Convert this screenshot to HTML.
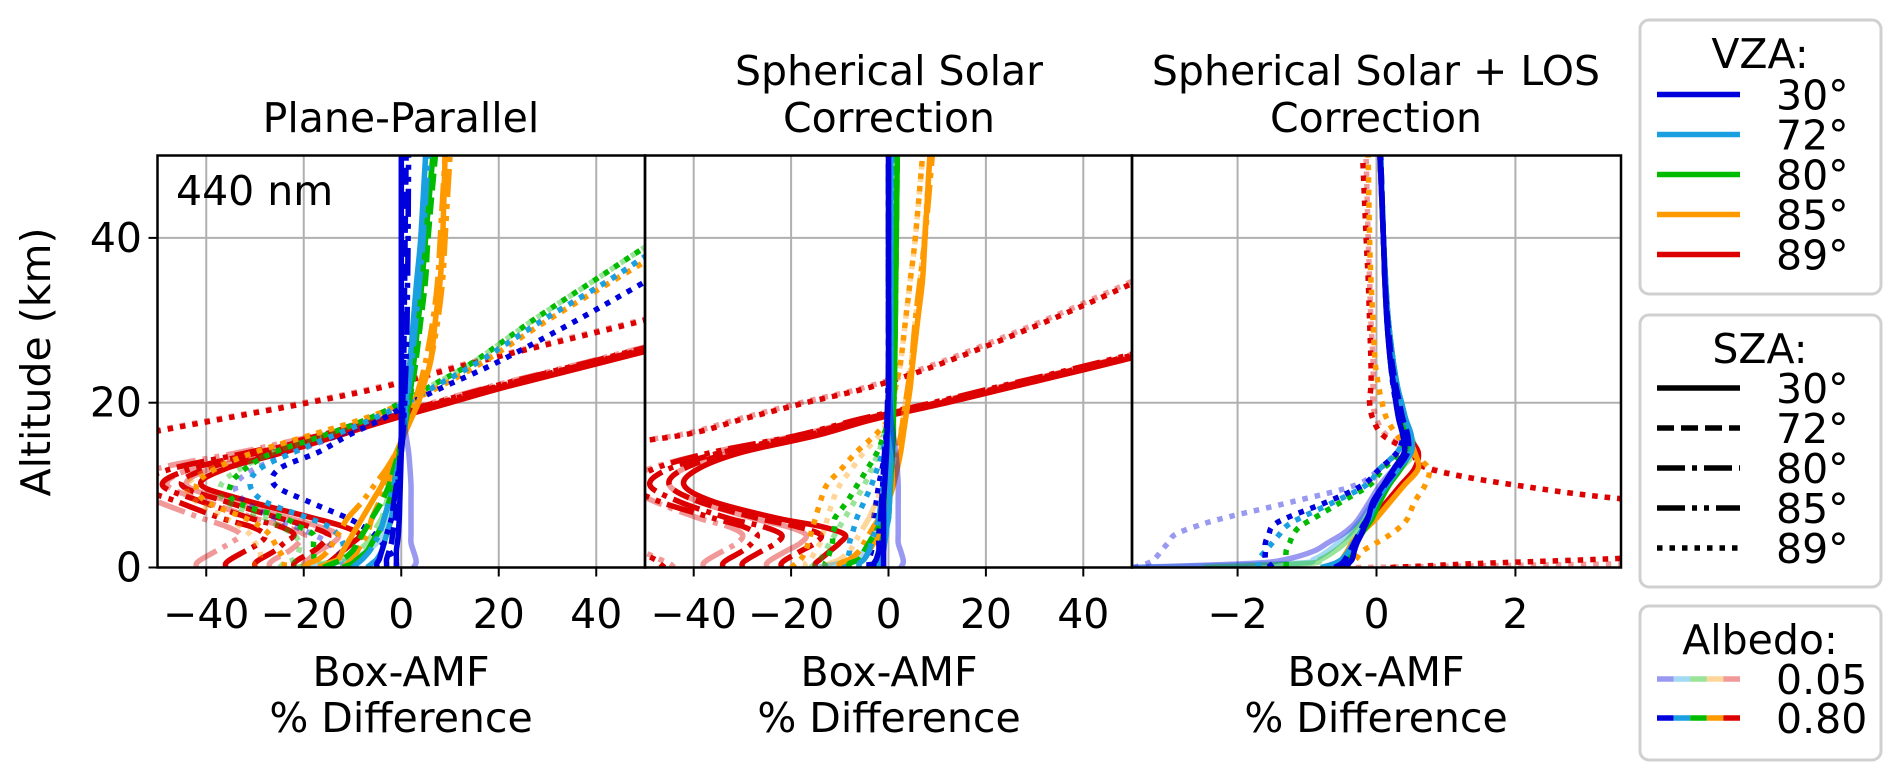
<!DOCTYPE html>
<html><head><meta charset="utf-8">
<style>
html,body{margin:0;padding:0;background:#fff;}
svg{display:block;font-family:"DejaVu Sans","Liberation Sans",sans-serif;}
</style></head>
<body>
<svg id="chart" width="1902" height="781" viewBox="0 0 1902 781" xmlns="http://www.w3.org/2000/svg">
<defs>
<clipPath id="c0"><rect x="157.5" y="155.5" width="487.5" height="412"/></clipPath>
<clipPath id="c1"><rect x="645" y="155.5" width="487" height="412"/></clipPath>
<clipPath id="c2"><rect x="1132" y="155.5" width="489" height="412"/></clipPath>
</defs>
<g id="grids"></g>
<g id="series"></g>
<g id="frames"></g>
<g id="texts" font-size="41" fill="#000">
<text x="401" y="132" text-anchor="middle">Plane-Parallel</text>
<text x="889" y="85" text-anchor="middle">Spherical Solar</text>
<text x="889" y="132" text-anchor="middle">Correction</text>
<text x="1376" y="85" text-anchor="middle">Spherical Solar + LOS</text>
<text x="1376" y="132" text-anchor="middle">Correction</text>
<text x="176" y="205">440 nm</text>
<text transform="translate(50,362) rotate(-90)" text-anchor="middle">Altitude (km)</text>
<text x="401" y="686" text-anchor="middle">Box-AMF</text>
<text x="401" y="732" text-anchor="middle">% Difference</text>
<text x="889" y="686" text-anchor="middle">Box-AMF</text>
<text x="889" y="732" text-anchor="middle">% Difference</text>
<text x="1376" y="686" text-anchor="middle">Box-AMF</text>
<text x="1376" y="732" text-anchor="middle">% Difference</text>
</g>
<g id="legends" font-size="41"></g>
</svg>
<script>
const ALT = [0,0.5,1,2,3,4,5,6,8,10,12,14,16,18,20,22,25,30,35,40,50];
const Y_TICKS = [0,20,40];
const X_TICKS_PCT = [-40,-20,0,20,40];
const X_TICKS_P3 = [-2,0,2];
const VZA_LABELS = ["30°","72°","80°","85°","89°"];
const SZA_LABELS = ["30°","72°","80°","85°","89°"];
const ALBEDO_LABELS = ["0.05","0.80"];

// Panel 1: plane-parallel
const p1_r30=[-15,-15,-14,-12,-10,-8.5,-12,-18,-31,-41,-36,-24,-13,-2,10,22,42,75,108,140,205];
const p1_r72=[-22,-22,-21,-18,-16,-15,-19,-25,-36,-45,-40,-27,-15,-3,9,21,41,74,107,139,204];
const p1_r80=[-30,-30,-29,-26,-24,-22,-25,-31,-41,-49,-43,-29,-16,-4,8,20,40,73,106,138,203];
const p1_r85=[-36,-36,-35,-32,-29,-28,-31,-37,-46,-54,-47,-31,-17,-5,7,19,39,72,105,137,202];
const p1_r89=[-300,-290,-280,-260,-240,-220,-200,-180,-150,-120,-95,-72,-55,-37,-19,-3,16,50,83,117,185];
const p1_r30L=[-20,-20,-19,-17,-14,-13,-17,-23,-35,-44,-39,-26,-14,-2.5,9.5,21.5,41.5,74,107,139,204];
const p1_r72L=[-27,-27,-26,-23,-21,-20,-24,-30,-40,-48,-43,-29,-16,-3.5,8.5,20.5,40.5,73,106,138,203];
const p1_r85L=[-42,-42,-41,-38,-35,-33,-36,-41,-50,-57,-50,-33,-18,-5.5,6.5,18.5,38.5,71,104,136,201];
const p1_r89L=[-300,-290,-280,-260,-240,-220,-200,-180,-150,-120,-95,-72,-56,-38,-20,-4,15,49,82,116,184];
const p1_o89=[-24,-24,-24,-25,-26,-27,-29,-32,-40,-42,-38,-30,-19,-8,1,8,17,30,44,58,85];
const p1_g89=[-20,-19,-18,-18,-18,-18,-21,-24,-34,-35,-32,-26,-16,-7,0,6,15,27,40,53,80];
const p1_c89=[-14,-14,-13,-12,-12,-13,-15,-19,-28,-31,-29,-22,-14,-6,1,7,16,29,43,56,85];
const p1_b89=[-1,-1,-1.5,-2.5,-4,-5.5,-8,-11,-19,-26,-25,-17,-11,-4,2,9,20,36,51,66,95];
const p1_o89L=[-30,-30,-29,-29,-30,-31,-33,-36,-42,-44,-39,-30,-19,-8,1,8,17,30,44,58,85];
const p1_g89L=[-25,-24,-22,-21,-21,-22,-25,-28,-36,-37,-33,-26,-16,-7,0,6,15,27,40,53,80];
const p1_b89L=[-12,-12,-12,-13,-15,-18,-22,-26,-32,-34,-30,-22,-13,-5,1,7,16,29,43,56,85];
const p1_o30=[-17,-15,-13,-12,-11,-10,-9,-8,-6,-4,-2.5,-1,0.5,2,3.5,4.5,6,7,8,8.5,9];
const p1_o72=[-12,-11,-10,-9,-8,-7,-6.5,-6,-4.5,-3,-1.5,-0.5,0.5,1.5,2.7,3.7,5,6.5,7.5,8,9];
const p1_o85=[-20,-19,-17,-15,-14,-13,-12,-11,-8,-5.5,-3,-1,0.5,2,3.5,4.5,6,7.5,8.5,9,10];
const p1_g30=[-12,-10,-9,-7,-6,-5,-4,-3.5,-2.5,-1.5,-1,-0.3,0.3,1,1.5,2,2.6,3.5,4.3,5,6.5];
const p1_g80=[-16,-14,-12,-10,-9,-8,-7,-6,-4,-2.5,-1.5,-0.5,0.3,1,1.6,2.2,3,4,5,5.5,7];
const p1_c30=[-7,-6,-5,-4,-3.5,-3,-2.5,-2,-1.5,-1,-0.5,0,0.3,0.6,1,1.3,1.8,2.5,3.2,4,5];
const p1_c72=[-10,-9,-8,-6.5,-5.5,-4.5,-4,-3.5,-2.5,-1.5,-0.8,0,0.4,0.8,1.2,1.6,2.2,3,3.8,4.5,5.5];
const p1_b30=[-1,-1,-1,-1,-0.8,-0.6,-0.5,-0.4,-0.3,-0.2,-0.1,0,0,0,0,0,0,0,0,0,0];
const p1_b72=[-3,-3,-3,-2.5,-2,-1.8,-1.5,-1.2,-1,-0.7,-0.4,-0.2,0,0.2,0.3,0.4,0.5,0.6,0.7,0.8,1];
const p1_b85=[-5,-5,-4.5,-4,-3.5,-3,-2.5,-2,-1.5,-1,-0.5,0,0.3,0.5,0.7,0.8,1,1.2,1.3,1.4,1.5];
const p1_b30L=[2.5,3,3,2.5,2,2,2,2,2,2,1.8,1.5,1,0.5,0.3,0.2,0.1,0.1,0,0,0];
const p1_c30L=[-20,-14,-10,-7,-5,-4,-3,-2.5,-1.5,-1,-0.5,0,0.3,0.6,1,1.3,1.8,2.5,3.2,4,5];
const p1_g30L=[-22,-16,-12,-9,-7,-6,-5,-4,-3,-2,-1,-0.3,0.3,1,1.5,2,2.6,3.5,4.3,5,6.5];

// Panel 2: spherical solar correction
const p2_r30=[-15,-15,-14,-12,-10,-9,-14,-23,-36,-42,-39,-30,-15,-3,12,26,47,80,113,146,212];
const p2_r72=[-22,-22,-21,-18,-15,-14,-19,-27,-39,-45,-42,-32,-17,-4,11,25,46,79,112,145,211];
const p2_r80=[-30,-30,-29,-26,-23,-22,-26,-33,-43,-49,-45,-34,-18,-5,10,24,45,78,111,144,210];
const p2_r85=[-34,-34,-33,-30,-28,-27,-30,-36,-47,-53,-48,-36,-19,-6,9,23,44,77,110,143,209];
const p2_r89=[-46,-47,-48,-52,-58,-65,-75,-85,-100,-100,-90,-70,-43,-30,-17,-3,12,33,52,70,105];
const p2_r30L=[-25,-25,-24,-21,-18,-17,-21,-28,-39,-45,-42,-32,-16,-3.5,11.5,25.5,46.5,79.5,112,145,211];
const p2_r80L=[-38,-38,-37,-34,-31,-30,-33,-39,-48,-54,-49,-36,-19,-5.5,9.5,23.5,44.5,77.5,110,143,209];
const p2_r89L=[-44,-45,-47,-51,-57,-64,-74,-84,-100,-100,-90,-70,-44,-31,-18,-4,11,32,51,69,104];
const p2_o89=[-20,-19,-18,-17,-16.5,-16,-15.5,-15,-14,-12.7,-9.6,-6.6,-2.9,0,1,1.5,2.5,3.5,4.5,5.5,7];
const p2_g89=[-13,-13,-12.5,-12,-11.5,-11.5,-11,-11,-8.5,-6.4,-4.3,-2.3,-1,0,0.3,0.5,0.7,0.9,1.1,1.3,1.6];
const p2_c89=[-9,-9,-8.5,-8,-8,-7.5,-7,-6.5,-5,-3.5,-2.3,-1.2,-0.5,0,0.2,0.3,0.4,0.5,0.6,0.7,0.8];
const p2_b89=[-4,-4,-4,-3.5,-3.5,-3,-3,-3,-2.5,-2,-1.3,-0.7,-0.3,0,0,0,0,0,0,0,0];
const p2_o89L=[-17,-17,-16,-15,-14,-13.5,-13,-12.5,-11.5,-10,-7.5,-5,-2,0,1,1.5,2.5,3.5,4.5,5.5,7];
const p2_g89L=[-16,-15,-14,-13,-12,-11,-10,-9,-7,-5,-3.5,-2,-1,0,0.3,0.5,0.7,0.9,1.1,1.3,1.6];
const p2_o30=[-6,-6,-5,-4,-3,-2,-1.5,-1,0,1,1.8,2.5,3,3.5,4,4.5,5,6,7,7.5,8.5];
const p2_o80=[-10,-10,-8,-6,-5,-4,-3,-2,-1,0,1,1.8,2.5,3,3.5,4,4.8,5.5,6.5,7.5,9];
const p2_o85L=[-14,-12,-10,-8,-7,-6,-5,-4,-2.5,-1,0.5,1.5,2.3,3,3.5,4,4.7,5.5,6.5,7.3,8.5];
const p2_g30=[-3,-3,-2.5,-2,-1.5,-1,-0.5,0,0.2,0.4,0.6,0.8,1,1,1.1,1.2,1.3,1.4,1.5,1.6,1.8];
const p2_g72=[-8,-8,-6,-5,-4,-3,-2,-1.5,-1,-0.5,0,0.3,0.6,0.8,1,1.1,1.2,1.4,1.5,1.6,1.8];
const p2_c30=[-2,-2,-1.5,-1,-0.8,-0.5,-0.3,0,0.2,0.3,0.4,0.5,0.5,0.5,0.5,0.5,0.5,0.5,0.5,0.5,0.5];
const p2_c80=[-6,-6,-5,-4,-3.5,-3,-2.5,-2,-1.5,-1,-0.5,-0.2,0,0.2,0.3,0.4,0.5,0.5,0.5,0.5,0.5];
const p2_b30=[-1,-1,-1,-1,-1,-1,-1,-1,-1,-0.8,-0.6,-0.4,-0.3,-0.2,-0.1,0,0,0,0,0,0];
const p2_b80=[-3,-3,-2.5,-2,-2,-2,-1.8,-1.6,-1.4,-1.2,-1,-0.8,-0.5,-0.3,-0.2,-0.1,0,0,0,0,0];
const p2_b30L=[2.5,3,3,2.5,2,2,2,2,2,2,1.8,1.5,1,0.5,0.3,0.2,0.1,0.1,0,0,0];
const p2_c30L=[-15,-10,-7,-5,-4,-3,-2.5,-2,-1.5,-1,-0.5,0,0.2,0.3,0.4,0.5,0.5,0.5,0.5,0.5,0.5];

// Panel 3: spherical solar + LOS correction
const p3_b30=[-0.45,-0.4,-0.35,-0.32,-0.28,-0.22,-0.17,-0.12,-0.05,0.1,0.25,0.4,0.38,0.32,0.28,0.25,0.2,0.15,0.12,0.1,0.05];
const p3_b72=[-0.6,-0.5,-0.45,-0.38,-0.32,-0.26,-0.2,-0.13,-0.02,0.12,0.3,0.45,0.45,0.38,0.33,0.28,0.22,0.16,0.12,0.1,0.06];
const p3_c30=[-0.8,-0.6,-0.5,-0.4,-0.33,-0.25,-0.18,-0.1,0,0.15,0.32,0.5,0.5,0.42,0.36,0.3,0.24,0.17,0.13,0.1,0.06];
const p3_g30=[-0.7,-0.55,-0.45,-0.37,-0.3,-0.22,-0.14,-0.06,0.05,0.18,0.35,0.48,0.45,0.4,0.35,0.3,0.24,0.17,0.13,0.1,0.06];
const p3_r30=[-0.45,-0.45,-0.42,-0.38,-0.32,-0.25,-0.15,-0.05,0.15,0.35,0.55,0.6,0.45,0.35,0.3,0.26,0.22,0.16,0.12,0.1,0.05];
const p3_o30=[-0.6,-0.55,-0.5,-0.42,-0.35,-0.25,-0.12,0,0.2,0.4,0.6,0.55,0.45,0.38,0.33,0.28,0.22,0.16,0.12,0.1,0.05];
const p3_b89=[-1.5,-1.55,-1.6,-1.6,-1.6,-1.55,-1.5,-1.3,-0.7,-0.2,0.05,0.3,0.38,0.33,0.28,0.24,0.2,0.15,0.12,0.1,0.05];
const p3_b89L=[-3.5,-3.3,-3.2,-3.1,-3.0,-2.9,-2.6,-2.2,-1.2,-0.3,0.05,0.3,0.38,0.33,0.28,0.24,0.2,0.15,0.12,0.1,0.05];
const p3_c89=[-1.7,-1.7,-1.7,-1.6,-1.5,-1.4,-1.3,-1.1,-0.6,-0.15,0.05,0.3,0.4,0.35,0.3,0.25,0.2,0.15,0.12,0.1,0.05];
const p3_g89=[-1.3,-1.3,-1.3,-1.3,-1.25,-1.2,-1.1,-0.9,-0.5,-0.1,0.1,0.35,0.4,0.35,0.3,0.25,0.2,0.15,0.12,0.1,0.05];
const p3_o89=[-0.4,-0.4,-0.3,-0.2,0,0.2,0.35,0.45,0.55,0.7,0.75,0.5,0.3,0.15,0.08,0.03,-0.02,-0.05,-0.08,-0.1,-0.12];
const p3_r89=[0.2,1.5,3.2,6,8,9,9,8,4,2.0,0.75,0.5,0.1,-0.05,-0.1,-0.08,-0.08,-0.1,-0.12,-0.15,-0.2];
const p3_r89L=[-0.3,4,8,9,9,9,9,8,4,2.0,0.8,0.5,0.15,0,-0.05,-0.05,-0.05,-0.08,-0.1,-0.12,-0.15];
const p3_c30L=[-3.5,-1.2,-0.9,-0.7,-0.55,-0.4,-0.3,-0.2,-0.05,0.1,0.3,0.5,0.5,0.42,0.36,0.3,0.24,0.17,0.13,0.1,0.06];
const p3_b30L=[-3.5,-1.8,-1.3,-0.9,-0.7,-0.5,-0.35,-0.25,-0.1,0.05,0.25,0.45,0.5,0.42,0.36,0.3,0.24,0.17,0.13,0.1,0.06];
const p3_g30L=[-2.5,-1.0,-0.8,-0.6,-0.45,-0.35,-0.25,-0.15,0,0.15,0.35,0.55,0.5,0.42,0.36,0.3,0.24,0.17,0.13,0.1,0.06];

// series descriptors: panel, VZA index, SZA index, albedo index (0 = 0.05, 1 = 0.80)
const SERIES = [
 [0,4,0,0,p1_r30L],[0,4,1,0,p1_r72L],[0,4,3,0,p1_r85L],[0,4,4,0,p1_r89L],
 [0,4,0,1,p1_r30],[0,4,1,1,p1_r72],[0,4,2,1,p1_r80],[0,4,3,1,p1_r85],[0,4,4,1,p1_r89],
 [0,3,4,0,p1_o89L],[0,2,4,0,p1_g89L],[0,0,4,0,p1_b89L],
 [0,3,4,1,p1_o89],[0,2,4,1,p1_g89],[0,1,4,1,p1_c89],[0,0,4,1,p1_b89],
 [0,1,0,0,p1_c30L],[0,2,1,0,p1_g30L],
 [0,3,0,1,p1_o30],[0,3,2,1,p1_o72],[0,3,3,1,p1_o85],[0,2,0,1,p1_g30],[0,2,1,1,p1_g80],
 [0,1,0,1,p1_c30],[0,1,2,1,p1_c72],[0,0,0,0,p1_b30L],[0,0,1,1,p1_b72],[0,0,3,1,p1_b85],[0,0,0,1,p1_b30],

 [1,4,0,0,p2_r30L],[1,4,2,0,p2_r80L],[1,4,4,0,p2_r89L],
 [1,4,0,1,p2_r30],[1,4,1,1,p2_r72],[1,4,2,1,p2_r80],[1,4,3,1,p2_r85],[1,4,4,1,p2_r89],
 [1,3,4,0,p2_o89L],[1,2,4,0,p2_g89L],
 [1,3,4,1,p2_o89],[1,2,4,1,p2_g89],[1,1,4,1,p2_c89],[1,0,4,1,p2_b89],
 [1,3,3,0,p2_o85L],[1,1,0,0,p2_c30L],
 [1,3,0,1,p2_o30],[1,3,2,1,p2_o80],[1,2,0,1,p2_g30],[1,2,1,1,p2_g72],
 [1,1,0,1,p2_c30],[1,1,2,1,p2_c80],[1,0,0,0,p2_b30L],[1,0,2,1,p2_b80],[1,0,0,1,p2_b30],

 [2,4,4,0,p3_r89L],[2,0,4,0,p3_b89L],[2,1,0,0,p3_c30L],[2,0,0,0,p3_b30L],[2,2,0,0,p3_g30L],
 [2,4,4,1,p3_r89],[2,3,4,1,p3_o89],[2,2,4,1,p3_g89],[2,1,4,1,p3_c89],[2,0,4,1,p3_b89],
 [2,4,0,1,p3_r30],[2,3,0,1,p3_o30],[2,2,0,1,p3_g30],[2,1,0,1,p3_c30],[2,0,1,1,p3_b72],[2,0,0,1,p3_b30]
];

const COLORS=["#0000dd","#1a9fe0","#00bb00","#ff9900","#dd0000"];
const DASHES=["none","17,7","28,7,5,7","28,7,5,7,5,7","5.5,7"];
const PANELS=[{x0:157.5,x1:645,min:-50,max:50},{x0:645,x1:1132,min:-50,max:50},{x0:1132,x1:1621,min:-3.52,max:3.52}];
const Y0=567.5,Y1=155.5;
const NS="http://www.w3.org/2000/svg";
function yS(a){return Y0-(a/50)*(Y0-Y1);}
function xS(p,v){const P=PANELS[p];return P.x0+(v-P.min)/(P.max-P.min)*(P.x1-P.x0);}
function mk(tag,attrs,parent){const e=document.createElementNS(NS,tag);for(const k in attrs)e.setAttribute(k,attrs[k]);parent.appendChild(e);return e;}

const grids=document.getElementById('grids');
const frames=document.getElementById('frames');
PANELS.forEach((P,pi)=>{
  const ticks=pi===2?X_TICKS_P3:X_TICKS_PCT;
  ticks.forEach(t=>{
    const x=xS(pi,t);
    const g=mk('line',{x1:x,x2:x,y1:Y1,y2:Y0,stroke:'#b0b0b0','stroke-width':2},grids);
    
    
    const tk=mk('line',{x1:x,x2:x,y1:Y0,y2:Y0+9,stroke:'#000','stroke-width':2},frames);
    
    
    const lb=mk('text',{x:x,y:628,'text-anchor':'middle','font-size':41},frames);
    lb.textContent=(t<0?'\u2212'+Math.abs(t):String(t));
    
    
  });
  Y_TICKS.forEach(t=>{
    if(t===0)return;
    const y=yS(t);
    const g=mk('line',{x1:P.x0,x2:P.x1,y1:y,y2:y,stroke:'#b0b0b0','stroke-width':2},grids);
    
    
  });
  const fr=mk('rect',{x:P.x0,y:Y1,width:P.x1-P.x0,height:Y0-Y1,fill:'none',stroke:'#000','stroke-width':2.5},frames);
  
  
});
Y_TICKS.forEach(t=>{
  const y=yS(t);
  const tk=mk('line',{x1:148.5,x2:157.5,y1:y,y2:y,stroke:'#000','stroke-width':2},frames);
  
  
  const lb=mk('text',{x:142,y:y+14,'text-anchor':'end','font-size':41},frames);
  lb.textContent=String(t);
  
  
});

function pathD(pts){
  let d='M'+pts[0][0].toFixed(1)+','+pts[0][1].toFixed(1);
  for(let i=0;i<pts.length-1;i++){
    const p0=pts[Math.max(0,i-1)],p1=pts[i],p2=pts[i+1],p3=pts[Math.min(pts.length-1,i+2)];
    const c1=[p1[0]+(p2[0]-p0[0])/6,p1[1]+(p2[1]-p0[1])/6];
    const c2=[p2[0]-(p3[0]-p1[0])/6,p2[1]-(p3[1]-p1[1])/6];
    d+=' C'+c1[0].toFixed(1)+','+c1[1].toFixed(1)+' '+c2[0].toFixed(1)+','+c2[1].toFixed(1)+' '+p2[0].toFixed(1)+','+p2[1].toFixed(1);
  }
  return d;
}
const sg=document.getElementById('series');
const groups=[0,1,2].map(i=>{const g=mk('g',{'clip-path':'url(#c'+i+')'},sg);return g;});
SERIES.forEach(s=>{
  const [p,v,z,a,vals]=s;
  const pts=vals.map((val,i)=>[xS(p,val),yS(ALT[i])]);
  const attrs={d:pathD(pts),fill:'none',stroke:COLORS[v],'stroke-width':5.5,'stroke-opacity':a===0?0.4:1,'stroke-linejoin':'round'};
  if(DASHES[z]!=='none')attrs['stroke-dasharray']=DASHES[z];
  const e=mk('path',attrs,groups[p]);
  
  
});

// legends
const lg=document.getElementById('legends');
function box(y,h,name){
  const r=mk('rect',{x:1640,y:y,width:241,height:h,rx:9,fill:'#fff',stroke:'#d0d0d0','stroke-width':3},lg);
  
  
}
function txt(x,y,s,anchor,name){
  const t=mk('text',{x:x,y:y,'text-anchor':anchor},lg);
  t.textContent=s;
  
  
}
box(20,274,'vza-legend');
txt(1760,68,'VZA:','middle','vza-legend-title');
VZA_LABELS.forEach((l,i)=>{
  const y=94.5+i*40;
  const ln=mk('line',{x1:1657,x2:1740,y1:y,y2:y,stroke:COLORS[i],'stroke-width':5.5},lg);
  
  
  txt(1776,y+15,l,'start','vza-legend-label');
});
box(315,272,'sza-legend');
txt(1760,363,'SZA:','middle','sza-legend-title');
SZA_LABELS.forEach((l,i)=>{
  const y=388+i*40;
  const at={x1:1657,x2:1740,y1:y,y2:y,stroke:'#000','stroke-width':5.5};
  if(DASHES[i]!=='none')at['stroke-dasharray']=DASHES[i];
  const ln=mk('line',at,lg);
  
  
  txt(1776,y+15,l,'start','sza-legend-label');
});
box(606,154,'albedo-legend');
txt(1760,654,'Albedo:','middle','albedo-legend-title');
ALBEDO_LABELS.forEach((l,i)=>{
  const y=679+i*39;
  COLORS.forEach((c,k)=>{
    const seg=mk('line',{x1:1657+k*16.6,x2:1657+(k+1)*16.6,y1:y,y2:y,stroke:c,'stroke-width':5.5,'stroke-opacity':i===0?0.4:1},lg);
    
    
  });
  txt(1776,y+15,l,'start','albedo-legend-label');
});
</script>
</body></html>
